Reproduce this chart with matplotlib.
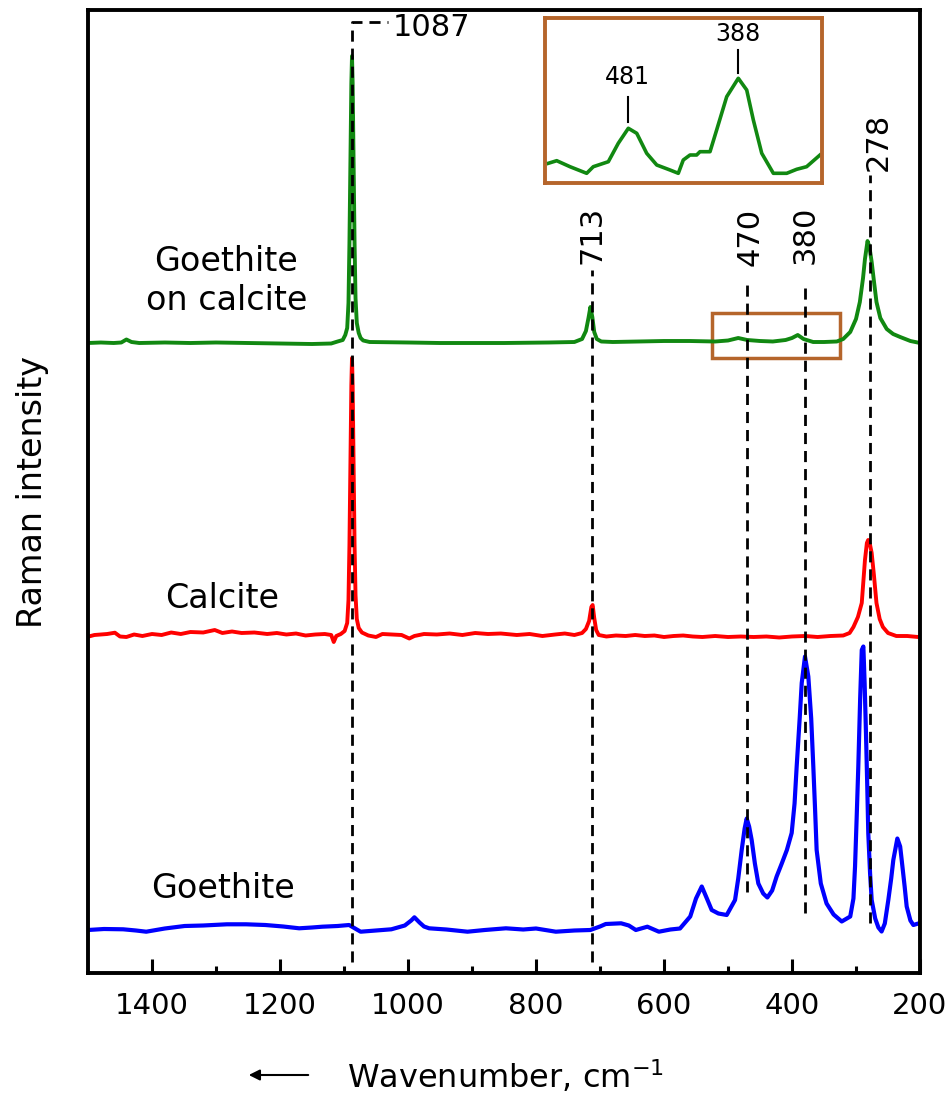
import matplotlib
matplotlib.use('Agg')
import matplotlib.pyplot as plt
import numpy as np

plt.rcParams['font.family'] = ['DejaVu Sans']
plt.rcParams['mathtext.default'] = 'regular'

# 光谱数据 (波数, 相对基线强度)
green_wn = [1500, 1480, 1460, 1448, 1440, 1432, 1420, 1380, 1340, 1300, 1250, 1200, 1150, 1120,
            1110, 1102, 1098, 1095, 1093, 1091.5, 1090, 1088.5, 1087.5, 1086.5, 1085, 1083.5,
            1082, 1080, 1077, 1074, 1070, 1060, 1000, 950, 900, 850, 780, 740, 728, 722, 718,
            715, 712, 709, 705, 698, 680, 640, 600, 560, 520, 500, 484, 470, 450, 430, 410, 400,
            391, 382, 367, 350, 330, 320, 309, 300, 294, 289, 286, 282, 279, 275.5, 272, 268,
            262, 252, 242, 231, 215, 200]
green_int = [0, 0.5, 0, 0.5, 3.5, 1, 0, 0.5, 0, 0.5, 0, -0.5, -1, -0.5,
             1.5, 3, 8, 15, 40, 100, 180, 260, 287, 260, 180, 100,
             45, 20, 10, 5, 2.5, 1, 0.5, 0, 0, 0, 0.5, 1, 4, 12, 25,
             36, 26, 11, 4, 1.5, 1, 1.5, 2, 2, 1.5, 2.5, 5, 3, 2, 1.5, 3, 5,
             8, 4, 1, 1, 1.5, 4, 11, 24, 41, 65, 84, 102, 96, 81, 62, 41,
             25, 14, 9, 6, 2, 0]

red_wn = [1500, 1490, 1470, 1458, 1450, 1440, 1428, 1415, 1400, 1385, 1370, 1355, 1340, 1320,
          1302, 1290, 1275, 1260, 1240, 1220, 1205, 1190, 1175, 1160, 1145, 1130, 1120, 1116,
          1112, 1105, 1099, 1095, 1093, 1091.5, 1090, 1088.5, 1087.5, 1086.5, 1085, 1083.5,
          1082, 1080, 1077, 1072, 1062, 1050, 1040, 1025, 1010, 998, 990, 975, 955, 935, 915,
          895, 875, 855, 830, 810, 790, 770, 755, 740, 728, 722, 717, 713.5, 711.5, 709, 706,
          702, 690, 675, 660, 645, 630, 615, 600, 585, 570, 555, 540, 520, 500, 480, 460, 440,
          420, 400, 380, 360, 340, 320, 310, 304, 297, 291, 286, 283, 281, 278, 275.5, 272, 268,
          263, 258, 250, 237, 220, 203, 200]
red_int = [-1.7, 0, 1, 2.3, -1.5, -2, 0.5, -1, 1, 0, 2.5, 1, 3, 2.5,
           5, 2, 3.5, 2, 2.5, 1, 2, 0.5, 1.5, -0.5, 0.5, 1, 0, -7,
           -1, 1, 4, 12, 35, 90, 170, 250, 277, 250, 170, 90,
           40, 16, 7, 2.5, -0.5, -2, 1, 0.5, 0, -3.5, -1, 1, 0.5, 1.5, 0,
           2, 1, 1.5, 0, 1, -1, 0.5, 1.5, 0, 2, 6, 14, 28, 30, 17, 5,
           0, -1.5, -0.5, -1, 0, -1, -0.5, -2, -1, -0.5, -1.5, -2, -1, -2, -1.5, -2, -1.5,
           -2.5, -1.5, -1, -2, -1, -0.5, 2, 8, 18, 32, 75, 92, 95, 90, 82, 60, 32,
           16, 8, 2, -1, -1, -2, -1]

blue_wn = [1500, 1475, 1445, 1425, 1409, 1380, 1349, 1320, 1283, 1253, 1223, 1195, 1170, 1150,
           1134, 1110, 1092, 1080, 1074, 1050, 1026, 1005, 995, 990, 982, 975, 967, 940, 907,
           880, 847, 820, 800, 769, 740, 715, 700, 691, 667, 655, 644, 626, 608, 590, 575, 559,
           550, 541, 533, 525.5, 515, 502, 489, 484, 478.6, 474, 470.8, 467, 463, 458, 452.6,
           445, 438.5, 431, 424, 416, 408, 400.5, 396, 392.7, 388, 384.8, 379.7, 374.5, 370,
           366.7, 364, 361.5, 355, 346, 335, 322.3, 309, 304, 301.5, 299, 296.4, 293.5, 291,
           288.5, 286.5, 284.4, 282.5, 280.8, 278, 275.5, 270, 265, 260, 255, 249.5, 245, 241.7,
           235.4, 231, 228.6, 224, 220.8, 215, 210.4, 202.6, 200]
blue_int = [-1.5, -0.5, -0.8, -2, -3.2, 0, 2.5, 3, 4.2, 4.2, 3.5, 2, 0.2, 1,
            1.8, 2.5, 3.5, -1, -3.2, -2, -0.8, 3, 8, 11.2, 6, 2, 0.2, -1, -3.2,
            -1.5, 0.2, -1, 0, -3.2, -2, -1.5, 2, 4.5, 5.2, 3, -1.5, 1.8, -3.2, -1, 0, 12,
            30, 42, 30, 18.5, 15, 13.5, 28.5, 50, 78.5, 100, 110, 102, 88.5, 65, 45,
            35, 31, 38, 52, 65, 78.5, 95.5, 125, 162, 210, 245.5, 272, 252, 210,
            162, 120, 78.5, 45, 25, 14, 7, 12, 30, 62, 110, 162, 230, 278.5,
            282, 245, 195, 145, 95, 55, 28.5, 10, 1, -3, 5, 28.5, 50, 68.5,
            90, 82, 68.5, 42, 22, 8, 3.5, 5, 5]

# 插图 (Goethite on calcite 放大 550-318 cm-1)
inset_wn = [548.2, 541.1, 529.9, 515.8, 510.2, 497.5, 489.1, 480.6, 473.5, 465.1, 456.6, 445.4,
            438.4, 434.2, 428.5, 422.9, 420.1, 411.6, 406, 397.5, 387.7, 380.6, 375, 367.9,
            358.1, 346.8, 338.4, 330, 318.7]
inset_int = [19.7, 22.3, 16.3, 9.7, 16.3, 21.3, 39.7, 54.7, 49.7, 29.7, 18, 13,
             9.7, 23, 28, 28, 31.3, 31.3, 53, 86.3, 104.7, 93, 63, 29.7,
             9.7, 9.7, 13.7, 16.3, 28]

xticks = [1400, 1200, 1000, 800, 600, 400, 200]
minor_ticks = [1300, 1100, 900, 700, 500, 300]
peaks = ['1087', '713', '470', '380', '278']

brown = '#b5652b'

fig = plt.figure(figsize=(9.53, 10.94), dpi=100)
ax = fig.add_axes([88/953, 1-973/1094, 832/953, 963/1094])

ax.plot(green_wn, np.array(green_int) + 630, color='#118811', lw=2.8)
ax.plot(red_wn, np.array(red_int) + 338, color='#ff0000', lw=2.8)
ax.plot(blue_wn, np.array(blue_int) + 44.5, color='#0000ff', lw=3)

# 虚线标注
dash = dict(color='black', lw=2, ls=(0, (4, 2.5)))
ax.plot([1087, 1087, 1031], [11, 951, 951], **dash)
ax.plot([713, 713], [11, 703], **dash)
ax.plot([470, 470], [81, 691], **dash)
ax.plot([380, 380], [60, 690], **dash)
ax.plot([278, 278], [50, 798], **dash)

ax.text(1024, 945, peaks[0], fontsize=22, va='center', ha='left')
ax.text(713, 738, peaks[1], fontsize=22, rotation=90, va='center', ha='center')
ax.text(465, 736, peaks[2], fontsize=22, rotation=90, va='center', ha='center')
ax.text(379, 738, peaks[3], fontsize=22, rotation=90, va='center', ha='center')
ax.text(265, 831, peaks[4], fontsize=22, rotation=90, va='center', ha='center')

ax.text(1284, 692, 'Goethite\non calcite', fontsize=24, ha='center', va='center',
        linespacing=1.25)
ax.text(1290, 375, 'Calcite', fontsize=24, ha='center', va='center')
ax.text(1289, 85, 'Goethite', fontsize=24, ha='center', va='center')

# 放大区域框
ax.add_patch(plt.Rectangle((525, 615), -200, 45, fill=False, ec=brown, lw=2.5))

ax.set_xlim(1500, 200)
ax.set_ylim(0, 963)
ax.set_yticks([])
ax.set_xticks(xticks)
ax.set_xticks(minor_ticks, minor=True)
ax.tick_params(axis='x', which='major', direction='in', length=10, width=2.2,
               labelsize=21, pad=14)
ax.tick_params(axis='x', which='minor', direction='in', length=5, width=2.2)
for s in ax.spines.values():
    s.set_linewidth(2.8)

ax.set_ylabel('Raman intensity', fontsize=24, labelpad=28)
fig.text(506/953, 1-1077/1094, 'Wavenumber, cm$^{-1}$', fontsize=23, ha='center', va='center')
fig.add_artist(matplotlib.patches.FancyArrowPatch((311/953, 1-1075/1094), (246/953, 1-1075/1094),
               transform=fig.transFigure, arrowstyle='-|>', mutation_scale=16,
               lw=1.5, color='black'))

# 插图
axi = fig.add_axes([545/953, 1-183/1094, 277/953, 165/1094])
axi.plot(inset_wn, inset_int, color='#118811', lw=2.6)
axi.set_xlim(551, 317)
axi.set_ylim(0, 165)
axi.set_xticks([])
axi.set_yticks([])
for s in axi.spines.values():
    s.set_color(brown)
    s.set_linewidth(2.8)
axi.plot([481, 481], [61, 86], color='black', lw=1.5)
axi.plot([388, 388], [110, 133], color='black', lw=1.5)
axi.text(481, 106, '481', fontsize=17, ha='center', va='center')
axi.text(388, 149, '388', fontsize=17, ha='center', va='center')

plt.savefig('out.png', dpi=100)
